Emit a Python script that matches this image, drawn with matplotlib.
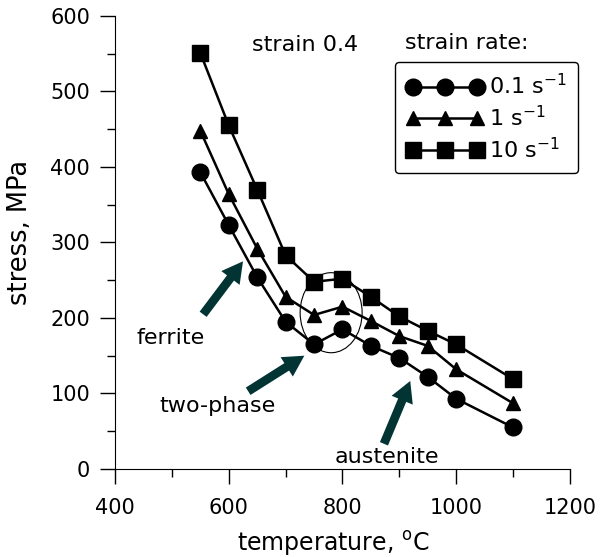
import numpy as np
import matplotlib
matplotlib.use("Agg")
import matplotlib.pyplot as plt
from matplotlib.patches import Ellipse

plt.rcParams['font.family'] = ['DejaVu Sans']

# ----------------------
# Data
# ----------------------
temp = [550, 600, 650, 700, 750, 800, 850, 900, 950, 1000, 1100]
stress_01 = [393, 323, 254, 195, 165, 185, 163, 147, 122, 93, 55]
stress_1 = [448, 364, 292, 228, 204, 215, 196, 176, 163, 132, 87]
stress_10 = [551, 455, 370, 283, 248, 252, 228, 202, 183, 165, 119]

labels = ['0.1 s$^{-1}$', '1 s$^{-1}$', '10 s$^{-1}$']
markers = ['o', '^', 's']
sizes = [12, 10, 11]

arrow_col = '#033434'

# ----------------------
# Plot
# ----------------------
fig = plt.figure(figsize=(6.07, 5.57), dpi=100)
ax = fig.add_axes([0.1895, 0.158, 0.7495, 0.8133])

for y, lab, m, ms in zip([stress_01, stress_1, stress_10], labels, markers, sizes):
    ax.plot(temp, y, color='black', lw=1.8, marker=m, ms=ms, label=lab)

ax.set_xlim(400, 1200)
ax.set_ylim(0, 600)
ax.set_xticks(np.arange(400, 1201, 200))
ax.set_xticks(np.arange(500, 1200, 200), minor=True)
ax.set_yticks(np.arange(0, 601, 100))
ax.set_yticks(np.arange(50, 600, 100), minor=True)
ax.tick_params(which='major', direction='out', length=11, width=1, labelsize=15)
ax.tick_params(which='minor', direction='out', length=6, width=1)
ax.tick_params(axis='x', which='major', pad=10)
ax.tick_params(axis='y', which='major', pad=7)
for s in ['top', 'right']:
    ax.spines[s].set_visible(False)

ax.set_xlabel('temperature, $^{\\rm o}$C', fontsize=17)
ax.set_ylabel('stress, MPa', fontsize=18.5)
ax.xaxis.set_label_coords(0.479, -0.133)
ax.yaxis.set_label_coords(-0.18, 0.523)

ax.text(0.30, 0.936, 'strain 0.4', transform=ax.transAxes, fontsize=16, va='center')
ax.text(0.637, 0.940, 'strain rate:', transform=ax.transAxes, fontsize=16, va='center')

leg = ax.legend(loc='upper left', bbox_to_anchor=(0.6507, 0.8887),
                bbox_transform=fig.transFigure, numpoints=3, fontsize=16,
                handlelength=3.5, handletextpad=0.25, labelspacing=0.3,
                borderpad=0.5, borderaxespad=0, fancybox=True, framealpha=1,
                edgecolor='black')
leg.get_frame().set_linewidth(1)

# two-phase region outline
ax.add_patch(Ellipse((780, 207), 109, 106, fill=False, lw=0.8, color='black'))

# arrows and region labels
arrow_kw = dict(arrowstyle='simple,head_length=1.0,head_width=1.1,tail_width=0.42',
                mutation_scale=15, color=arrow_col, lw=0)
ax.annotate('', xy=(628, 278), xytext=(552, 202), arrowprops=arrow_kw)
ax.annotate('', xy=(737, 152), xytext=(630, 101), arrowprops=arrow_kw)
ax.annotate('', xy=(921, 120), xytext=(871, 30), arrowprops=arrow_kw)

ax.text(558, 173, 'ferrite', fontsize=16, ha='right', va='center')
ax.text(581, 83, 'two-phase', fontsize=16, ha='center', va='center')
ax.text(878, 16, 'austenite', fontsize=16, ha='center', va='center')

fig.savefig('out.png', dpi=100)
